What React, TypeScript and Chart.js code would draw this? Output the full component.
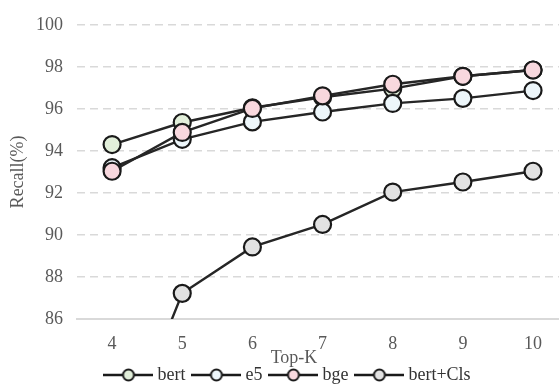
import React, { useEffect, useRef } from "react";
import { Chart, registerables } from "chart.js";

Chart.register(...registerables);

// ---- data ----
const topK = [4, 5, 6, 7, 8, 9, 10];
const bertValues = [94.3, 95.35, 96.05, 96.55, 96.96, 97.55, 97.85];
const e5Values = [93.2, 94.55, 95.38, 95.85, 96.26, 96.5, 96.87];
const bgeValues = [93.03, 94.88, 96.02, 96.62, 97.17, 97.55, 97.85];
const bertClsValues = [78.9, 87.22, 89.43, 90.5, 92.04, 92.52, 93.03];
const seriesNames = ["bert", "e5", "bge", "bert+Cls"];
const seriesFills = ["#e2efda", "#edf6fa", "#f8d8de", "#e2e2e2"];
const drawOrder = [2, 1, 0, 3];
const yTickValues = [86, 88, 90, 92, 94, 96, 98, 100];
const xTitle = "Top-K";
const yTitle = "Recall(%)";

const FONT = "'Liberation Serif', 'Times New Roman', serif";
const TEXT = "#595959";
const LINE = "#262626";
const MARK_BORDER = "#1a1a1a";
const GRID = "#d9d9d9";

function legendSwatch(fill: string): HTMLCanvasElement {
  const c = document.createElement("canvas");
  c.width = 50;
  c.height = 16;
  const ctx = c.getContext("2d")!;
  ctx.strokeStyle = MARK_BORDER;
  ctx.lineWidth = 2.5;
  ctx.beginPath();
  ctx.moveTo(0, 8);
  ctx.lineTo(50, 8);
  ctx.stroke();
  ctx.beginPath();
  ctx.arc(25, 8, 5.5, 0, Math.PI * 2);
  ctx.fillStyle = fill;
  ctx.fill();
  ctx.lineWidth = 2;
  ctx.stroke();
  return c;
}

const layoutTweak = {
  id: "layoutTweak",
  afterLayout(chart: any) {
    const l = chart.legend;
    if (l) {
      l.top += 9;
      l.bottom += 9;
      l.left += 10;
      l.right += 10;
    }
    const xs = chart.scales.x;
    if (xs) xs.bottom += 24;
  },
};

const xTitlePlugin = {
  id: "xTitlePlugin",
  afterDraw(chart: any) {
    const { ctx, chartArea } = chart;
    ctx.save();
    ctx.font = `18px ${FONT}`;
    ctx.fillStyle = TEXT;
    ctx.textAlign = "center";
    ctx.textBaseline = "middle";
    ctx.fillText(xTitle, (chartArea.left + chartArea.right) / 2 - 24, chartArea.bottom + 39);
    ctx.restore();
  },
};

export default function App() {
  const canvasRef = useRef<HTMLCanvasElement | null>(null);

  useEffect(() => {
    document.body.style.margin = "0";
    const canvas = canvasRef.current;
    if (!canvas) return;
    const seriesValues = [bertValues, e5Values, bgeValues, bertClsValues];
    const swatches = seriesFills.map((f) => legendSwatch(f));

    const chart = new Chart(canvas, {
      type: "line",
      data: {
        datasets: seriesNames.map((name, i) => ({
          label: name,
          data: topK.map((k, j) => ({ x: k, y: seriesValues[i][j] })),
          order: drawOrder[i],
          borderColor: LINE,
          borderWidth: 2.4,
          tension: 0,
          pointRadius: 8.5,
          pointHoverRadius: 8.5,
          pointBorderWidth: 2.2,
          pointBorderColor: MARK_BORDER,
          pointBackgroundColor: seriesFills[i],
          backgroundColor: seriesFills[i],
        })),
      },
      plugins: [layoutTweak, xTitlePlugin],
      options: {
        animation: false,
        responsive: true,
        maintainAspectRatio: false,
        devicePixelRatio: 1,
        layout: { autoPadding: false, padding: { top: 10, right: 0, bottom: 0, left: 0 } },
        plugins: {
          tooltip: { enabled: false },
          legend: {
            position: "bottom",
            labels: {
              usePointStyle: true,
              pointStyleWidth: 40,
              padding: 11,
              color: "#333333",
              font: { family: FONT, size: 18 },
              sort: (a: any, b: any) => a.datasetIndex - b.datasetIndex,
              generateLabels: (chart: any) => {
                const items = (Chart.defaults.plugins.legend.labels as any).generateLabels(chart);
                return items.map((it: any) => ({ ...it, pointStyle: swatches[it.datasetIndex] }));
              },
            },
          },
        },
        scales: {
          x: {
            type: "linear",
            min: 3.5,
            max: 10.37,
            afterBuildTicks: (scale: any) => {
              scale.ticks = topK.map((v) => ({ value: v }));
            },
            afterFit: (scale: any) => {
              scale.height = 27;
              scale.paddingLeft = 0;
              scale.paddingRight = 0;
            },
            grid: { display: false, drawTicks: false },
            border: { display: true, color: GRID, width: 2 },
            ticks: {
              padding: 14,
              color: TEXT,
              font: { family: FONT, size: 18 },
              callback: (v: any) => String(v),
            },
          },
          y: {
            type: "linear",
            min: 86,
            max: 100,
            afterBuildTicks: (scale: any) => {
              scale.ticks = yTickValues.map((v) => ({ value: v }));
            },
            afterFit: (scale: any) => {
              scale.width = 77;
            },
            grid: { color: GRID, lineWidth: 1.5, drawTicks: false },
            border: { display: false, dash: [8, 5] },
            ticks: {
              padding: 14,
              color: TEXT,
              font: { family: FONT, size: 18 },
              callback: (v: any) => String(v),
            },
            title: {
              display: true,
              text: yTitle,
              color: TEXT,
              font: { family: FONT, size: 18 },
              padding: { top: 7, bottom: 0 },
            },
          },
        },
      },
    } as any);

    return () => chart.destroy();
  }, []);

  return (
    <div style={{ position: "relative", width: 559, height: 385 }}>
      <canvas ref={canvasRef} />
    </div>
  );
}
